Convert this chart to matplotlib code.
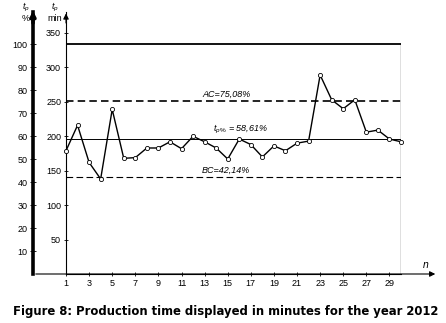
import matplotlib

matplotlib.use("Agg")
import matplotlib.pyplot as plt

# ---------------------------------------------------------------------------
# Data
# ---------------------------------------------------------------------------
days = list(range(1, 31))
minutes = [179, 216, 162, 138, 239, 168, 169, 183, 183, 192,
           182, 200, 192, 183, 167, 196, 188, 170, 186, 179,
           190, 193, 289, 253, 240, 253, 206, 209, 196, 192]

full_time = 334          # 100 % in minutes
ac_pct = 75.08
bc_pct = 42.14
mean_pct = 58.61

min_ticks = [50, 100, 150, 200, 250, 300, 350]
pct_ticks = [10, 20, 30, 40, 50, 60, 70, 80, 90, 100]
day_ticks = list(range(1, 30, 2))

caption = "Figure 8: Production time displayed in minutes for the year 2012"

plt.rcParams["font.family"] = ["Liberation Sans", "DejaVu Sans"]
plt.rcParams["mathtext.fontset"] = "custom"
plt.rcParams["mathtext.it"] = "Liberation Sans:italic"
plt.rcParams["mathtext.rm"] = "Liberation Sans"

FS = 6.5


def to_pct(m):
    return m / full_time * 100


def to_min(p):
    return p * full_time / 100


W, H = 446, 323
fig = plt.figure(figsize=(W / 100, H / 100), dpi=100)

# axes box in pixels: x from 66 to 401, y from 274 (bottom) to 12 (top)
left, right, bottom, top = 66, 401, 274, 12
ax = fig.add_axes([left / W, 1 - bottom / H, (right - left) / W, (bottom - top) / H])
ax.set_xlim(1, 30)
ax.set_ylim(0, (bottom - top) / (241 / 350))

for s in ("top", "right"):
    ax.spines[s].set_visible(False)
ax.spines["left"].set_linewidth(0.8)
ax.spines["bottom"].set_linewidth(0.8)

ax.set_yticks(min_ticks)
ax.set_xticks(day_ticks)
ax.tick_params(axis="both", direction="inout", length=3, width=0.6,
               labelsize=FS, pad=2)

# frame of the 100 % region
ax.hlines(full_time, 1, 30, color="black", linewidth=1.3)
ax.vlines(30, 0, full_time, color="black", linewidth=0.9)

# reference lines
ax.hlines(to_min(mean_pct), 1, 30, color="black", linewidth=0.7)
ax.hlines(to_min(ac_pct), 1, 30, color="black", linewidth=1.2,
          linestyles=(0, (4.5, 2.5)))
ax.hlines(to_min(bc_pct), 1, 30, color="black", linewidth=0.8,
          linestyles=(0, (6, 3)))

ax.text(14.9, to_min(ac_pct) + 4, "AC=75,08%", fontsize=FS, style="italic",
        ha="center", va="bottom")
ax.text(14.85, to_min(bc_pct) + 4, "BC=42,14%", fontsize=FS, style="italic",
        ha="center", va="bottom")
ax.text(16.1, to_min(mean_pct) + 4, r"$t_{p\,\%}$ = 58,61%", fontsize=FS,
        style="italic", ha="center", va="bottom")

# production time series
ax.plot(days, minutes, color="black", linewidth=1.0, marker="o",
        markersize=3, markerfacecolor="white", markeredgewidth=0.6,
        clip_on=False, zorder=3)

# percent axis on the far left
sec = ax.secondary_yaxis(-(left - 33) / (right - left),
                         functions=(to_pct, to_min))
sec.set_yticks(pct_ticks)
sec.spines["left"].set_linewidth(2.6)
sec.tick_params(direction="inout", length=4, width=0.6, labelsize=FS, pad=2)

# arrows on the axes
ymax = ax.get_ylim()[1]
xpct = 1 - (left - 33) / 11.55
ax.annotate("", xy=(1, ymax + 2), xytext=(1, ymax - 20),
            arrowprops=dict(arrowstyle="-|>", color="black", lw=0.8,
                            mutation_scale=8), annotation_clip=False)
ax.annotate("", xy=(xpct, ymax + 6), xytext=(xpct, ymax - 20),
            arrowprops=dict(arrowstyle="-|>", color="black", lw=2.6,
                            mutation_scale=7), annotation_clip=False)
ax.annotate("", xy=(1 + (438 - left) / 11.55, 0), xytext=(xpct, 0),
            arrowprops=dict(arrowstyle="-|>", color="black", lw=0.8,
                            mutation_scale=8), annotation_clip=False)

# axis labels
fig.text(26 / W, 1 - 9 / H, r"$t_p$", fontsize=FS, ha="center", va="baseline")
fig.text(26 / W, 1 - 14 / H, "%", fontsize=FS, ha="center", va="top")
fig.text(55 / W, 1 - 9 / H, r"$t_p$", fontsize=FS, ha="center", va="baseline")
fig.text(55 / W, 1 - 14 / H, "min", fontsize=FS, ha="center", va="top")
fig.text(426 / W, 1 - 265 / H, "n", fontsize=FS + 1, style="italic",
         ha="center", va="center")

fig.text(13 / W, 1 - 315 / H, caption, fontsize=8.35, fontweight="bold",
         family="DejaVu Sans", ha="left", va="baseline")

fig.savefig("out.png", dpi=100)
